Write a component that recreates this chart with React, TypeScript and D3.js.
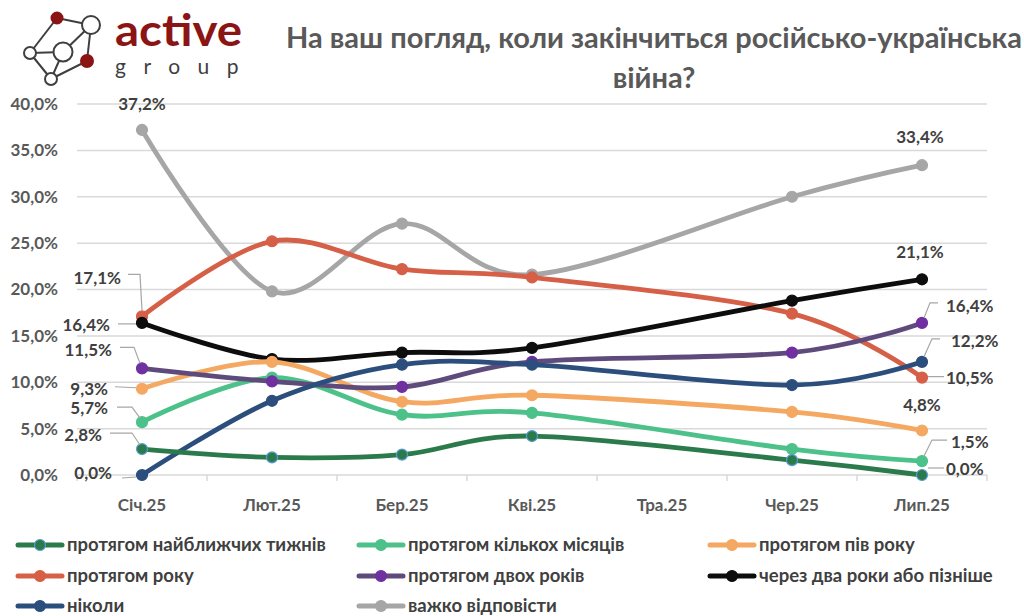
import React, { useRef, useEffect } from "react"
import * as d3 from "d3"

// survey waves (Тра.25 has no data)
const months = ["Січ.25", "Лют.25", "Бер.25", "Кві.25", "Тра.25", "Чер.25", "Лип.25"]

const seriesNames = [
  "протягом найближчих тижнів",
  "протягом кількох місяців",
  "протягом пів року",
  "протягом року",
  "протягом двох років",
  "через два роки або пізніше",
  "ніколи",
  "важко відповісти",
]

const weeks = [2.8, 1.9, 2.2, 4.2, null, 1.6, 0.0]
const fewMonths = [5.7, 10.5, 6.5, 6.7, null, 2.8, 1.5]
const halfYear = [9.3, 12.2, 7.9, 8.6, null, 6.8, 4.8]
const oneYear = [17.1, 25.2, 22.2, 21.3, null, 17.4, 10.5]
const twoYears = [11.5, 10.1, 9.5, 12.2, null, 13.2, 16.4]
const laterThanTwo = [16.4, 12.5, 13.2, 13.7, null, 18.8, 21.1]
const never = [0.0, 8.0, 11.9, 11.9, null, 9.7, 12.2]
const hardToSay = [37.2, 19.8, 27.1, 21.6, null, 30.0, 33.4]

const yTicks = [0, 5, 10, 15, 20, 25, 30, 35, 40]

const allValues = [weeks, fewMonths, halfYear, oneYear, twoYears, laterThanTwo, never, hardToSay]

const lineColors = ["#2b7a4b", "#4dc18a", "#f4a862", "#d65f47", "#5e4b7c", "#0d0d0d", "#2c4e7c", "#a6a6a6"]
const markerColors = ["#2b7a4b", "#4dc18a", "#f4a862", "#d65f47", "#7030a0", "#0d0d0d", "#2c4e7c", "#a6a6a6"]
// draw order (back to front)
const drawOrder = [7, 3, 5, 2, 1, 4, 6, 0]

// end labels: series, month index, label offset, anchor, leader points (relative to marker)
type Lab = { s: number; i: number; dx: number; dy: number; anchor: string; leader?: [number, number][] }
const labels: Lab[] = [
  { s: 7, i: 0, dx: 0, dy: -26, anchor: "middle" },
  { s: 3, i: 0, dx: -21, dy: -38, anchor: "end", leader: [[-14, -42], [-2, -42], [0, -6]] },
  { s: 5, i: 0, dx: -32, dy: 2, anchor: "end", leader: [[-24, 1], [-6, 1]] },
  { s: 4, i: 0, dx: -30, dy: -18, anchor: "end", leader: [[-22, -21], [-8, -21], [-2, -5]] },
  { s: 2, i: 0, dx: -34, dy: 0, anchor: "end", leader: [[-27, -2], [-6, -1]] },
  { s: 1, i: 0, dx: -34, dy: -14, anchor: "end", leader: [[-25, -15], [-10, -15], [-2, -4]] },
  { s: 0, i: 0, dx: -40, dy: -14, anchor: "end", leader: [[-32, -16], [-10, -16], [-2, -4]] },
  { s: 6, i: 0, dx: -30, dy: -2, anchor: "end", leader: [[-20, 3], [-6, 2]] },
  { s: 7, i: 6, dx: -2, dy: -28, anchor: "middle" },
  { s: 5, i: 6, dx: -2, dy: -27, anchor: "middle" },
  { s: 4, i: 6, dx: 24, dy: -17, anchor: "start", leader: [[16, -20], [8, -20], [2, -5]] },
  { s: 6, i: 6, dx: 29, dy: -21, anchor: "start", leader: [[18, -23], [10, -23], [2, -5]] },
  { s: 3, i: 6, dx: 24, dy: 0, anchor: "start", leader: [[6, -1], [22, -1]] },
  { s: 2, i: 6, dx: 0, dy: -25, anchor: "middle" },
  { s: 1, i: 6, dx: 29, dy: -19, anchor: "start", leader: [[25, -21], [10, -21], [2, -5]] },
  { s: 0, i: 6, dx: 24, dy: -6, anchor: "start", leader: [[6, -7], [22, -7]] },
]

const fmt = (v: number) => v.toFixed(1).replace(".", ",") + "%"
const FONT = "Lato, 'Noto Sans', sans-serif"

const App: React.FC = () => {
  const svgRef = useRef<SVGSVGElement>(null)

  useEffect(() => {
    if (!svgRef.current) return
    const svg = d3.select(svgRef.current)
    svg.selectAll("*").remove()

    const left = 77
    const right = 987
    const top = 104
    const bottom = 475

    const x = d3.scaleBand().domain(months).range([left, right])
    const cx = (i: number) => x(months[i])! + x.bandwidth() / 2
    const y = d3.scaleLinear().domain([0, 40]).range([bottom, top])

    // logo
    const logo = svg.append("g")
    const nodes: [number, number, number, boolean][] = [
      [57, 18, 5.5, true],
      [91, 25, 9, false],
      [30, 53, 6, false],
      [63, 52, 9.5, false],
      [87, 61, 6, true],
      [51, 79, 6, false],
    ]
    const edges = [[0, 1], [0, 2], [1, 3], [2, 3], [1, 4], [2, 5], [3, 5], [4, 5]]
    edges.forEach(([a, b]) => {
      logo.append("line")
        .attr("x1", nodes[a][0]).attr("y1", nodes[a][1])
        .attr("x2", nodes[b][0]).attr("y2", nodes[b][1])
        .attr("stroke", "#3f3f3f").attr("stroke-width", 2)
    })
    nodes.forEach(([nx, ny, r, red]) => {
      logo.append("circle")
        .attr("cx", nx).attr("cy", ny).attr("r", r)
        .attr("fill", red ? "#8b1414" : "#fff")
        .attr("stroke", red ? "#8b1414" : "#3f3f3f")
        .attr("stroke-width", 2)
    })
    logo.append("text")
      .attr("x", 115).attr("y", 46)
      .attr("font-family", FONT).attr("font-weight", "bold").attr("font-size", 44)
      .attr("textLength", 127).attr("lengthAdjust", "spacingAndGlyphs")
      .attr("fill", "#8b1414")
      .text("active")
    logo.append("text")
      .attr("x", 115).attr("y", 74)
      .attr("font-family", FONT).attr("font-size", 21)
      .attr("letter-spacing", 17.5)
      .attr("fill", "#3f3f3f")
      .text("group")

    // title
    const title = svg.append("text")
      .attr("text-anchor", "middle")
      .attr("font-family", FONT).attr("font-weight", "bold").attr("font-size", 29)
      .attr("fill", "#595959")
    title.append("tspan").attr("x", 654).attr("y", 48).text("На ваш погляд, коли закінчиться російсько-українська")
    title.append("tspan").attr("x", 654).attr("y", 88).text("війна?")

    // gridlines
    svg.selectAll(".grid")
      .data(yTicks)
      .enter()
      .append("line")
      .attr("x1", left).attr("x2", right)
      .attr("y1", (d) => y(d)).attr("y2", (d) => y(d))
      .attr("stroke", "#d9d9d9").attr("stroke-width", 1.5)

    svg.selectAll(".ytick")
      .data(yTicks)
      .enter()
      .append("text")
      .attr("x", 58).attr("y", (d) => y(d))
      .attr("dy", "0.35em")
      .attr("text-anchor", "end")
      .attr("font-family", FONT).attr("font-weight", "bold").attr("font-size", 17)
      .attr("fill", "#595959")
      .text((d) => fmt(d))

    // category ticks
    const bounds = months.map((m) => x(m)!).concat([right])
    svg.selectAll(".xtickmark")
      .data(bounds)
      .enter()
      .append("line")
      .attr("x1", (d) => d).attr("x2", (d) => d)
      .attr("y1", bottom).attr("y2", bottom + 6)
      .attr("stroke", "#d9d9d9").attr("stroke-width", 1.5)

    svg.selectAll(".xlabel")
      .data(months)
      .enter()
      .append("text")
      .attr("x", (_, i) => cx(i)).attr("y", 505)
      .attr("dy", "0.35em")
      .attr("text-anchor", "middle")
      .attr("font-family", FONT).attr("font-weight", "bold").attr("font-size", 17)
      .attr("fill", "#595959")
      .text((d) => d)

    // series
    const line = d3.line<[number, number]>()
      .x((d) => cx(d[0]))
      .y((d) => y(d[1]))
      .curve(d3.curveCatmullRom.alpha(0))

    drawOrder.forEach((s) => {
      const pts = allValues[s]
        .map((v, i) => [i, v] as [number, number | null])
        .filter((d) => d[1] !== null) as [number, number][]
      svg.append("path")
        .datum(pts)
        .attr("d", line)
        .attr("fill", "none")
        .attr("stroke", lineColors[s])
        .attr("stroke-width", 4.8)
        .attr("stroke-linecap", "round")
      svg.selectAll(".m" + s)
        .data(pts)
        .enter()
        .append("circle")
        .attr("cx", (d) => cx(d[0]))
        .attr("cy", (d) => y(d[1]))
        .attr("r", 5.5)
        .attr("fill", markerColors[s])
        .attr("stroke", s === 0 ? "#5b9bd5" : markerColors[s])
        .attr("stroke-width", 1.2)
    })

    // data labels
    labels.forEach((l) => {
      const v = allValues[l.s][l.i] as number
      const px = cx(l.i)
      const py = y(v)
      if (l.leader) {
        svg.append("path")
          .attr("d", d3.line()(l.leader.map(([a, b]) => [px + a, py + b] as [number, number])))
          .attr("fill", "none")
          .attr("stroke", "#a6a6a6")
          .attr("stroke-width", 1.2)
      }
      svg.append("text")
        .attr("x", px + l.dx).attr("y", py + l.dy)
        .attr("dy", "0.35em")
        .attr("text-anchor", l.anchor)
        .attr("font-family", FONT).attr("font-weight", "bold").attr("font-size", 17)
        .attr("fill", "#404040")
        .text(fmt(v))
    })

    // legend
    const legCols = [18, 359, 710]
    const legRows = [545, 576, 606]
    seriesNames.forEach((name, s) => {
      const lx = legCols[s % 3]
      const ly = legRows[Math.floor(s / 3)]
      svg.append("line")
        .attr("x1", lx).attr("x2", lx + 44)
        .attr("y1", ly).attr("y2", ly)
        .attr("stroke", lineColors[s]).attr("stroke-width", 5)
        .attr("stroke-linecap", "round")
      svg.append("circle")
        .attr("cx", lx + 22).attr("cy", ly).attr("r", 5.5)
        .attr("fill", markerColors[s])
        .attr("stroke", s === 0 ? "#5b9bd5" : markerColors[s])
        .attr("stroke-width", 1.2)
      svg.append("text")
        .attr("x", lx + 49).attr("y", ly)
        .attr("dy", "0.35em")
        .attr("font-family", FONT).attr("font-weight", "bold").attr("font-size", 18.5)
        .attr("fill", "#404040")
        .text(name)
    })
  }, [])

  return (
    <div style={{ position: "absolute", left: 0, top: 0 }}>
      <svg ref={svgRef} width={1024} height={616} style={{ display: "block", background: "#fff" }} />
    </div>
  )
}

export default App
